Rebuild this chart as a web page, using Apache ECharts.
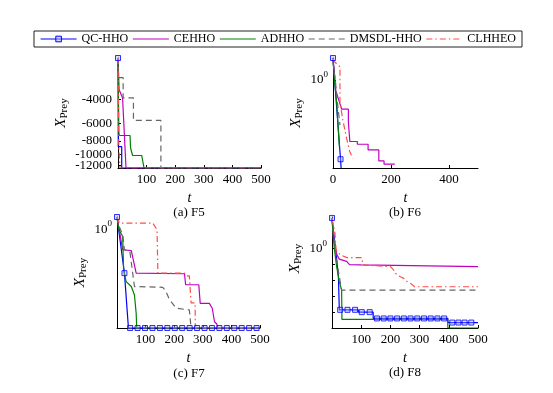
<!DOCTYPE html>
<html>
<head>
<meta charset="utf-8">
<script src="https://cdn.jsdelivr.net/npm/echarts@6/dist/echarts.min.js"></script>
<style>
  html, body { margin: 0; padding: 0; background: #fff; }
  #chart { width: 553px; height: 393px; }
</style>
</head>
<body>
<div id="chart"></div>
<script>
// 算法名称（图例顺序）
const names = ['QC-HHO', 'CEHHO', 'ADHHO', 'DMSDL-HHO', 'CLHHEO']
const captions = ['(a) F5', '(b) F6', '(c) F7', '(d) F8']

// F5：收敛值（负数，纵轴按 |f| 取对数并反向）
const f5Qc = [[0, -2000], [1, -8800], [13, -8800], [13, -12569], [500, -12569]]
const f5Ce = [[0, -2000], [4, -3400], [16, -3900], [28, -12569], [500, -12569]]
const f5Ad = [[0, -2000], [3, -7000], [5, -7300], [42, -7300], [44, -9000], [51, -10200], [83, -10200], [91, -12569], [500, -12569]]
const f5Dm = [[0, -2000], [1, -2780], [18, -2780], [18, -3890], [54, -3890], [54, -5680], [150, -5680], [150, -12569], [500, -12569]]
const f5Cl = [[0, -2000], [3, -9000], [7, -12569], [500, -12569]]
const f5Mark = [[0, -2000]]

// F6
const f6Qc = [[0, 10], [26, 2.5e-4], [28, 1e-4]]
const f6Ce = [[0, 10], [10, 0.32], [30, 0.047], [53, 0.047], [53, 0.0126], [58, 0.0126], [58, 0.0016], [84, 0.0016], [84, 0.0012], [121, 0.0012], [121, 6.6e-4], [158, 6.6e-4], [158, 2.1e-4], [176, 2.1e-4], [176, 1.5e-4], [213, 1.5e-4]]
const f6Ad = [[0, 8], [5, 1], [12, 0.12], [22, 9.3e-4]]
const f6Dm = [[0, 6.3], [8, 1], [15, 0.1], [24, 0.0089]]
const f6Cl = [[0, 9], [5, 6.8], [24, 4.0], [24, 0.1], [34, 0.015], [47, 0.0022], [58, 5.5e-4], [68, 2.8e-4]]
const f6Mark = [[0, 10], [26, 2.5e-4]]

// F7
const f7Qc = [[0, 10], [26, 2.8e-4], [40, 1e-8], [500, 1e-8]]
const f7Ce = [[0, 10], [20, 0.022], [50, 0.019], [67, 2.8e-4], [236, 2.5e-4], [240, 3.2e-5], [286, 3.2e-5], [291, 1e-6], [323, 1e-6], [333, 4e-7], [341, 3.2e-8], [349, 2.1e-8], [352, 1e-8], [500, 1e-8]]
const f7Ad = [[0, 10], [6, 1], [20, 0.26], [23, 5.2e-4], [32, 5.8e-5], [50, 2.3e-5], [61, 4.8e-6], [67, 1.6e-7], [69, 1e-8], [500, 1e-8]]
const f7Dm = [[0, 10], [3, 3.2], [20, 0.36], [26, 0.022], [45, 0.016], [61, 2.3e-5], [160, 2.0e-5], [170, 1e-5], [184, 1.9e-6], [207, 4e-7], [213, 2.9e-7], [253, 2.9e-7], [259, 1e-8], [500, 1e-8]]
const f7Cl = [[0, 10], [9, 3.2], [125, 3.2], [140, 0.93], [143, 2.8e-4], [236, 2.8e-4], [243, 1.7e-4], [253, 1.7e-4], [259, 1.07e-6], [273, 1.07e-6], [274, 1e-8], [500, 1e-8]]
const f7Mark = [[0, 10], [26, 2.8e-4], [46, 1e-8], [72, 1e-8], [98, 1e-8], [124, 1e-8], [150, 1e-8], [176, 1e-8], [202, 1e-8], [228, 1e-8], [254, 1e-8], [280, 1e-8], [306, 1e-8], [332, 1e-8], [358, 1e-8], [384, 1e-8], [410, 1e-8], [436, 1e-8], [462, 1e-8], [488, 1e-8]]

// F8
const f8Qc = [[0, 87], [10, 2.2], [22, 0.017], [25, 1.4e-4], [90, 1.4e-4], [90, 1.0e-4], [141, 1.0e-4], [141, 4.0e-5], [397, 4.0e-5], [397, 2.2e-5], [500, 2.2e-5]]
const f8Ce = [[0, 79], [5, 4.0], [17, 0.41], [25, 0.22], [50, 0.16], [60, 0.1], [100, 0.095], [105, 0.074], [500, 0.074]]
const f8Ad = [[0, 79], [8, 1], [16, 0.074], [25, 0.0083], [33, 0.0025], [34, 3.5e-5], [396, 3.5e-5], [397, 1e-5], [500, 1e-5]]
const f8Dm = [[0, 79], [10, 1.26], [20, 0.063], [33, 0.00245], [500, 0.00245]]
const f8Cl = [[0, 79], [10, 9.8], [14, 0.85], [28, 0.41], [51, 0.275], [102, 0.275], [106, 0.095], [200, 0.074], [211, 0.046], [217, 0.028], [234, 0.017], [246, 0.0135], [258, 0.0083], [269, 0.0065], [283, 0.004], [500, 0.004]]
const f8Mark = [[0, 87], [28, 1.4e-4], [53, 1.4e-4], [79, 1.4e-4], [102, 1.0e-4], [129, 1.0e-4], [154, 4.0e-5], [177, 4.0e-5], [200, 4.0e-5], [223, 4.0e-5], [246, 4.0e-5], [269, 4.0e-5], [292, 4.0e-5], [315, 4.0e-5], [338, 4.0e-5], [361, 4.0e-5], [384, 4.0e-5], [412, 2.2e-5], [433, 2.2e-5], [454, 2.2e-5], [477, 2.2e-5]]

const panels = [
  { lines: [f5Qc, f5Ce, f5Ad, f5Dm, f5Cl], mark: f5Mark },
  { lines: [f6Qc, f6Ce, f6Ad, f6Dm, f6Cl], mark: f6Mark },
  { lines: [f7Qc, f7Ce, f7Ad, f7Dm, f7Cl], mark: f7Mark },
  { lines: [f8Qc, f8Ce, f8Ad, f8Dm, f8Cl], mark: f8Mark }
]

const colors = ['#0000ff', '#c000c0', '#008000', '#666666', '#ff4d4d']
const dashes = ['solid', 'solid', 'solid', [6, 4], [6, 3, 1.5, 3]]
const markStyle = { color: 'rgba(170,170,255,0.5)', borderColor: '#0000ff', borderWidth: 1 }
const font = 'Liberation Serif'

// 纵轴变换：F5 用 log10(-f)，其余用 log10(x)
const toY = [v => Math.log10(-v), v => Math.log10(v), v => Math.log10(v), v => Math.log10(v)]

const grids = [
  { left: 118, top: 58, width: 143, height: 110 },
  { left: 333, top: 58, width: 145, height: 110 },
  { left: 117, top: 217, width: 143, height: 111 },
  { left: 332, top: 217, width: 146, height: 111 }
]

const yName = {
  name: '{x|X}{p|Prey}',
  nameLocation: 'middle',
  nameRotate: 90,
  nameTextStyle: {
    rich: {
      x: { fontFamily: font, fontStyle: 'italic', fontSize: 15, lineHeight: 18, color: '#000' },
      p: { fontFamily: font, fontSize: 11, lineHeight: 10, verticalAlign: 'bottom', color: '#000' }
    }
  }
}

const powLabel = {
  formatter: () => '{b|10}{e|0}',
  rich: {
    b: { fontFamily: font, fontSize: 13, lineHeight: 20, color: '#000' },
    e: { fontFamily: font, fontSize: 9, lineHeight: 10, verticalAlign: 'top', color: '#000' }
  }
}

const axisCommon = {
  type: 'value',
  splitLine: { show: false },
  axisLine: { onZero: false, lineStyle: { color: '#000', width: 1 } },
  axisTick: { inside: true, length: 3, lineStyle: { color: '#000' } }
}

const xAxes = grids.map((g, i) => ({
  ...axisCommon,
  gridIndex: i,
  min: 0,
  max: 500,
  interval: i === 1 ? 200 : 100,
  name: 't',
  nameLocation: 'middle',
  nameGap: 23,
  nameTextStyle: { fontFamily: font, fontStyle: 'italic', fontSize: 14, color: '#000' },
  axisLabel: {
    fontFamily: font, fontSize: 13, color: '#000', margin: 5,
    showMinLabel: i === 1, showMaxLabel: i !== 1
  }
}))

// F5 纵轴刻度；最后加一个空标签占据轴端，避免 -12000 被当作端点标签隐藏
const f5Ticks = [-4000, -6000, -8000, -10000, -12000]
const f5Min = -12569.5
const yAxes = [
  {
    ...axisCommon, ...yName, gridIndex: 0, nameGap: 48,
    inverse: true, min: Math.log10(2000), max: toY[0](f5Min),
    axisTick: { ...axisCommon.axisTick, customValues: f5Ticks.map(toY[0]) },
    axisLabel: {
      fontFamily: font, fontSize: 13, color: '#000', margin: 6,
      showMinLabel: true, showMaxLabel: false,
      customValues: f5Ticks.concat([f5Min]).map(toY[0]),
      formatter: v => (Math.abs(v - toY[0](f5Min)) < 1e-9 ? '' : '-' + Math.round(Math.pow(10, v)))
    }
  },
  {
    ...axisCommon, ...yName, gridIndex: 1, nameGap: 28, min: -4, max: 1,
    axisTick: { ...axisCommon.axisTick, customValues: [0] },
    axisLabel: { ...powLabel, margin: 5, customValues: [0] }
  },
  {
    ...axisCommon, ...yName, gridIndex: 2, nameGap: 28, min: -8, max: 1,
    axisTick: { ...axisCommon.axisTick, customValues: [0] },
    axisLabel: { ...powLabel, margin: 5, customValues: [0] }
  },
  {
    ...axisCommon, ...yName, gridIndex: 3, nameGap: 28, min: -5, max: 2,
    axisTick: { ...axisCommon.axisTick, customValues: [0, -1, -2, -3, -4] },
    axisLabel: { ...powLabel, margin: 5, customValues: [0] }
  }
]
yAxes[3].nameTextStyle = { ...yName.nameTextStyle, padding: [0, 0, 0, 28] }

const series = []
panels.forEach((p, i) => {
  p.lines.forEach((d, k) => {
    series.push({
      type: 'line',
      name: names[k],
      xAxisIndex: i,
      yAxisIndex: i,
      // QC-HHO 带方形标记（图例用），曲线上的标记由下面的散点画
      symbol: k === 0 ? 'rect' : 'none',
      symbolSize: 6,
      showSymbol: false,
      itemStyle: k === 0 ? markStyle : { color: colors[k] },
      lineStyle: { color: colors[k], width: 1.2, type: dashes[k] },
      data: d.map(([x, v]) => [x, toY[i](v)])
    })
  })
  // QC-HHO 的方形标记
  series.push({
    type: 'scatter',
    xAxisIndex: i,
    yAxisIndex: i,
    symbol: 'rect',
    symbolSize: 5,
    z: 5,
    itemStyle: markStyle,
    data: p.mark.map(([x, v]) => [x, toY[i](v)])
  })
})

// 子图标题
const capPos = [[189, 213], [405, 213], [189, 374], [405, 373]]
const graphic = captions.map((c, i) => ({
  type: 'text',
  style: { text: c, x: capPos[i][0], y: capPos[i][1], font: '13px "Liberation Serif"', fill: '#000', align: 'center', verticalAlign: 'middle' }
}))

const chart = echarts.init(document.getElementById('chart'), null, { renderer: 'canvas' })
chart.setOption({
  backgroundColor: '#fff',
  animation: false,
  legend: {
    left: 34,
    top: 31,
    padding: [2, 6],
    borderColor: '#222',
    borderWidth: 1,
    borderRadius: 0,
    itemWidth: 36,
    itemHeight: 7,
    itemGap: 4,
    lineStyle: { width: 1.2 },
    itemStyle: { borderWidth: 1 },
    textStyle: { fontFamily: font, fontSize: 12, color: '#000' },
    data: names.map((n, k) => (k === 0 ? { name: n } : { name: n, itemStyle: { opacity: 0 } }))
  },
  grid: grids,
  xAxis: xAxes,
  yAxis: yAxes,
  series,
  graphic
})
</script>
</body>
</html>
